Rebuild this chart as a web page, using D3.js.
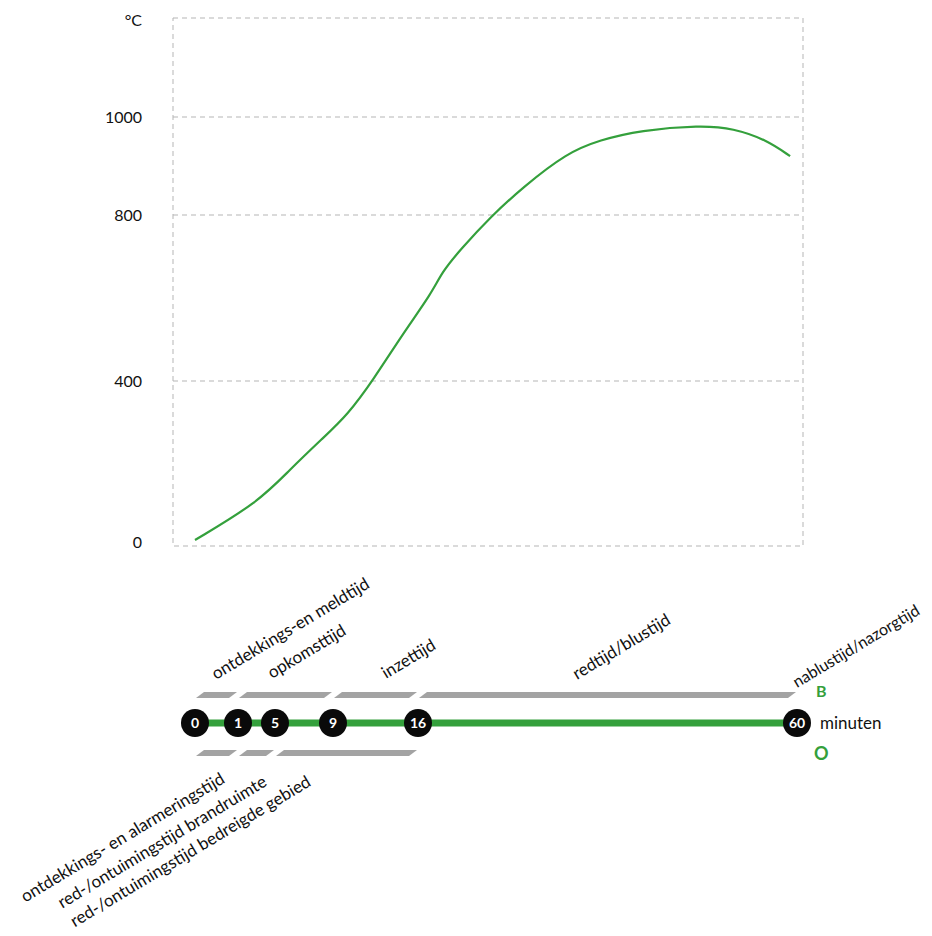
<!DOCTYPE html>
<html>
<head>
<meta charset="utf-8">
<script src="https://cdn.jsdelivr.net/npm/d3@7"></script>
<style>
  body { margin: 0; background: #fff; }
  text { font-family: Lato, "Open Sans", sans-serif; }
</style>
</head>
<body>
<svg id="chart" width="932" height="936"></svg>
<script>
"use strict";

// Temperature curve: time (minutes) and temperature (°C)
const curveMinutes = [0, 3.2, 6.0, 8.3, 10.2, 12.3, 14.8, 17.6, 18.8, 20.9, 24.4, 28.2, 33.3, 37.1, 41.8, 48.8, 52.6, 56.5, 59.2];
const curveTemps   = [5, 99, 179, 258, 316, 402, 516, 612, 663, 716, 795, 857, 927, 953, 973, 983, 977, 953, 920];

// Y axis
const tempTicks = [0, 400, 800, 1000];
const tempUnit = "°C";

// Timeline milestones (minutes)
const milestones = [0, 1, 5, 9, 16, 60];
const timeUnit = "minuten";

// Upper row (B) phases
const upperStart  = [0, 1, 9, 16];
const upperEnd    = [1, 9, 16, 60];
const upperLabels = ["ontdekkings-en meldtijd", "opkomsttijd", "inzettijd", "redtijd/blustijd", "nablustijd/nazorgtijd"];

// Lower row (O) phases
const lowerStart  = [0, 1, 5];
const lowerEnd    = [1, 5, 16];
const lowerLabels = ["ontdekkings- en alarmeringstijd", "red-/ontuimingstijd brandruimte", "red-/ontuimingstijd bedreigde gebied"];

const svg = d3.select("#chart");
const green = "#34a03c";
const grey = "#a3a3a3";

// scales (the original uses uneven spacing on both axes)
const x = d3.scaleLinear().domain(milestones).range([195, 238, 275, 333, 418, 797]);
const y = d3.scaleLinear().domain([0, 400, 800, 1000, 1200]).range([542, 381, 215, 117, 18]);

const plot = { left: 173, right: 803, top: 18, bottom: 546 };

// frame + grid
const grid = svg.append("g")
    .attr("stroke", "#b5b5b5")
    .attr("stroke-width", 1)
    .attr("stroke-dasharray", "5,4")
    .attr("fill", "none");

grid.append("rect")
    .attr("x", plot.left).attr("y", plot.top)
    .attr("width", plot.right - plot.left)
    .attr("height", plot.bottom - plot.top);

grid.selectAll("line")
    .data(tempTicks.filter(d => d > 0))
    .enter().append("line")
    .attr("x1", plot.left).attr("x2", plot.right)
    .attr("y1", d => y(d)).attr("y2", d => y(d));

// y labels
svg.append("g").selectAll("text")
    .data(tempTicks)
    .enter().append("text")
    .attr("x", 142)
    .attr("y", d => y(d))
    .attr("dy", "0.35em")
    .attr("text-anchor", "end")
    .style("font-size", "16px")
    .style("fill", "#111")
    .text(d => d);

svg.append("text")
    .attr("x", 142).attr("y", y(1200) + 2)
    .attr("dy", "0.35em")
    .attr("text-anchor", "end")
    .style("font-size", "16px")
    .style("fill", "#111")
    .text(tempUnit);

// temperature curve
const line = d3.line()
    .curve(d3.curveBasis)
    .x((d, i) => x(curveMinutes[i]))
    .y(d => y(d));

svg.append("path")
    .datum(curveTemps)
    .attr("d", line)
    .attr("fill", "none")
    .attr("stroke", green)
    .attr("stroke-width", 2.2);

// timeline
const tlY = 723;
const barH = 6;
const skew = 4;

function bar(g, a, b, cy) {
    const x0 = x(a) + 5, x1 = x(b) - 5;
    const pts = [[x0 + skew, cy - barH / 2], [x1 + skew, cy - barH / 2], [x1 - skew, cy + barH / 2], [x0 - skew, cy + barH / 2]];
    g.append("polygon").attr("points", pts.map(p => p.join(",")).join(" ")).attr("fill", grey);
}

const bars = svg.append("g");
upperStart.forEach((s, i) => bar(bars, s, upperEnd[i], 695));
lowerStart.forEach((s, i) => bar(bars, s, lowerEnd[i], 753));

svg.append("line")
    .attr("x1", x(0)).attr("x2", x(60))
    .attr("y1", tlY).attr("y2", tlY)
    .attr("stroke", green)
    .attr("stroke-width", 7);

const nodes = svg.append("g").selectAll("g")
    .data(milestones)
    .enter().append("g")
    .attr("transform", d => `translate(${x(d)},${tlY})`);

nodes.append("circle").attr("r", 14).attr("fill", "#0a0a0a");
nodes.append("text")
    .attr("text-anchor", "middle")
    .attr("dy", "0.36em")
    .style("font-size", "14px")
    .style("font-weight", "bold")
    .style("fill", "#fff")
    .text(d => d);

svg.append("text")
    .attr("x", 820).attr("y", tlY).attr("dy", "0.35em")
    .style("font-size", "17px").style("fill", "#111")
    .text(timeUnit);

svg.append("text")
    .attr("x", 816).attr("y", 691).attr("dy", "0.35em")
    .style("font-size", "16px").style("font-weight", "bold").style("fill", green)
    .text("B");
svg.append("text")
    .attr("x", 814).attr("y", 754).attr("dy", "0.35em")
    .style("font-size", "18px").style("font-weight", "bold").style("fill", green)
    .text("O");

// rotated phase labels
const angle = -31;
const upperLabelX = [216, 272, 386, 577, 797];
const upperLabelY = [680, 679, 679, 680, 688];
const upperLabelSize = [17, 17, 17, 17, 16];

svg.append("g").selectAll("text")
    .data(upperLabels)
    .enter().append("text")
    .attr("transform", (d, i) => `translate(${upperLabelX[i]},${upperLabelY[i]}) rotate(${angle})`)
    .style("font-size", (d, i) => upperLabelSize[i] + "px").style("fill", "#111")
    .text(d => d);

const lowerLabelX = [226, 268, 312];
const lowerLabelY = [782, 785, 785];

svg.append("g").selectAll("text")
    .data(lowerLabels)
    .enter().append("text")
    .attr("transform", (d, i) => `translate(${lowerLabelX[i]},${lowerLabelY[i]}) rotate(${angle})`)
    .attr("text-anchor", "end")
    .style("font-size", "17px").style("fill", "#111")
    .text(d => d);
</script>
</body>
</html>
